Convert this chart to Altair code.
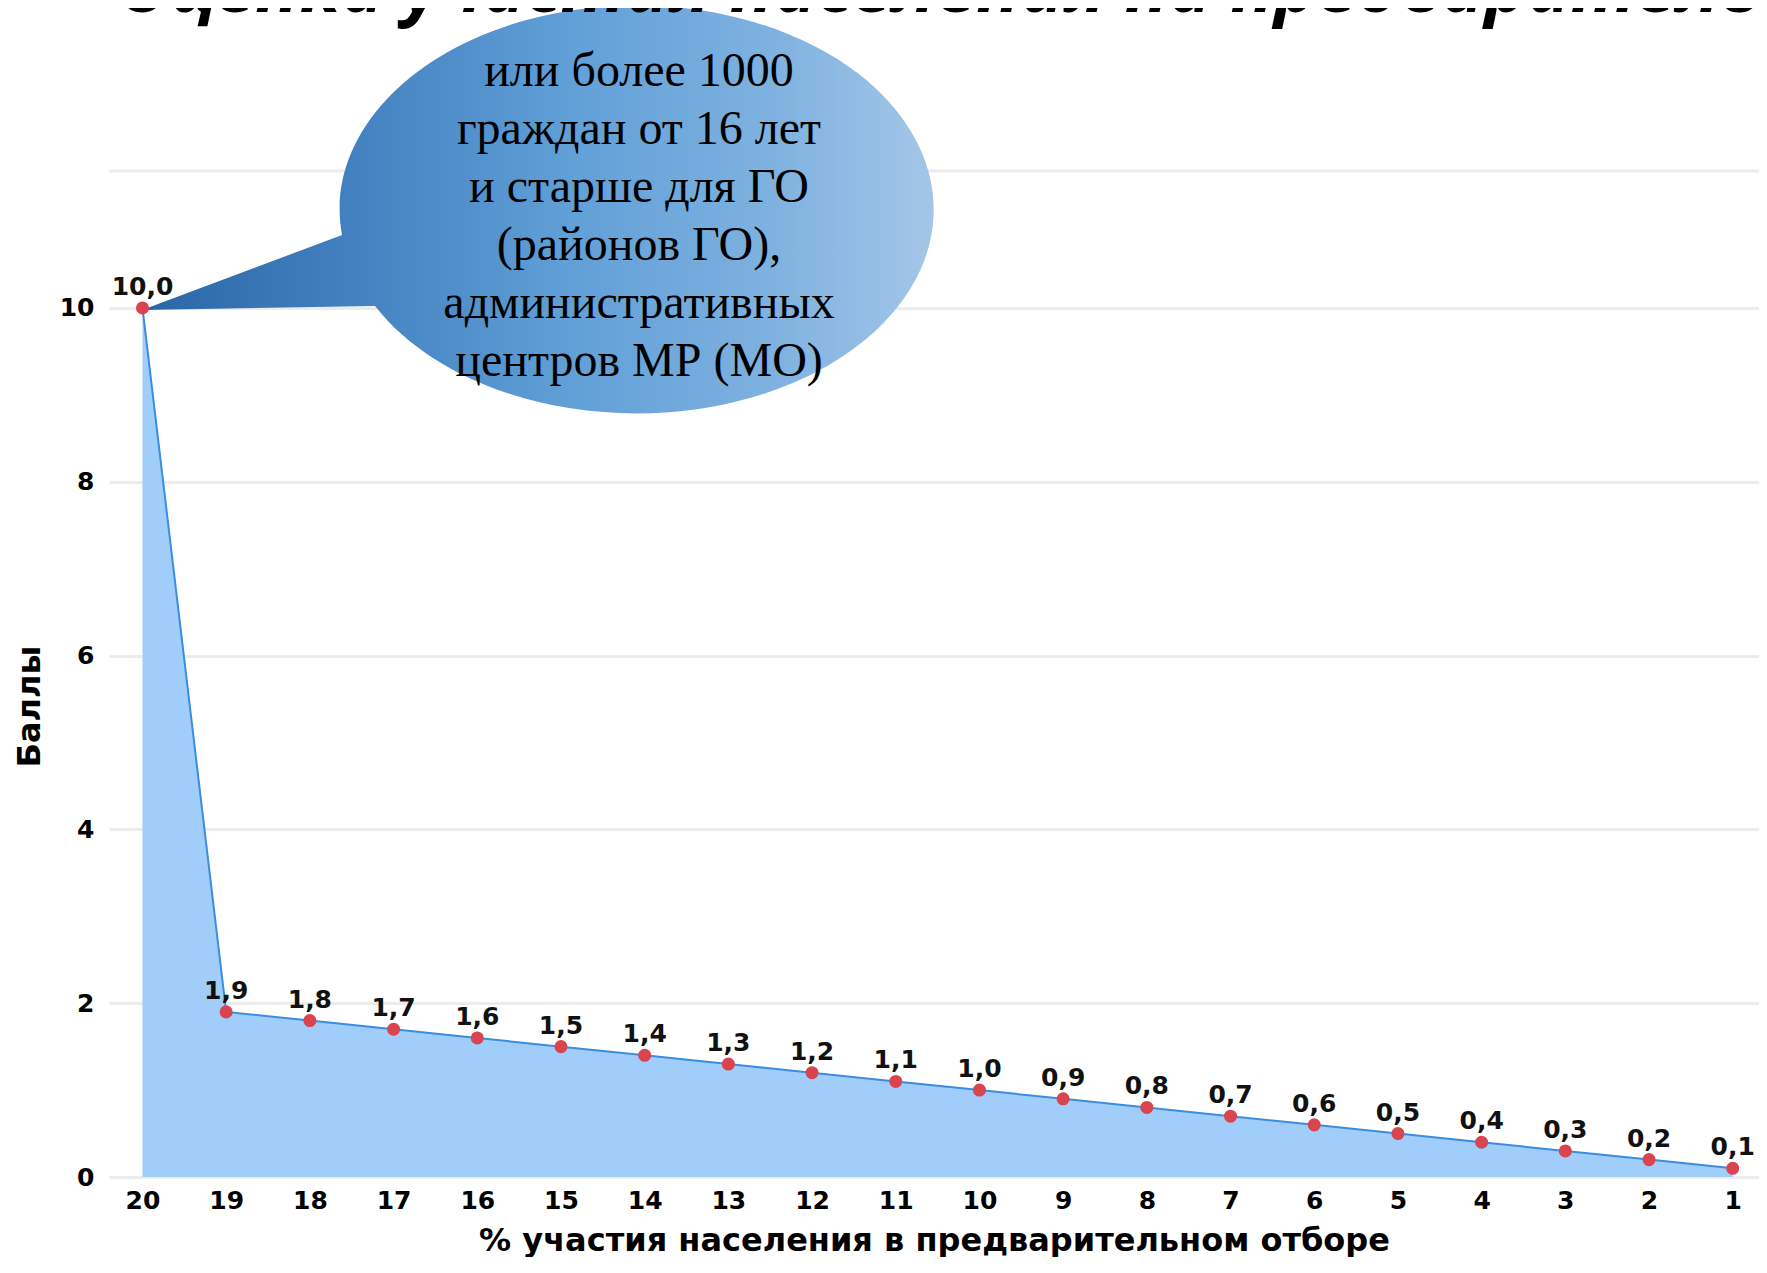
import altair as alt
import pandas as pd

# ---- data ----
participation = [20, 19, 18, 17, 16, 15, 14, 13, 12, 11, 10, 9, 8, 7, 6, 5, 4, 3, 2, 1]
scores = [10.0, 1.9, 1.8, 1.7, 1.6, 1.5, 1.4, 1.3, 1.2, 1.1, 1.0, 0.9, 0.8, 0.7, 0.6, 0.5, 0.4, 0.3, 0.2, 0.1]
x_ticks = [20, 19, 18, 17, 16, 15, 14, 13, 12, 11, 10, 9, 8, 7, 6, 5, 4, 3, 2, 1]
y_ticks = [0, 2, 4, 6, 8, 10]
bubble_lines = [
    "или более 1000",
    "граждан от 16 лет",
    "и старше для ГО",
    "(районов ГО),",
    "административных",
    "центров МР (МО)",
]
title_text = "Оценка участия населения на предварительном отборе"
x_title = "% участия населения в предварительном отборе"
y_title = "Баллы"

df = pd.DataFrame({"pct": participation, "score": scores})
one = pd.DataFrame({"k": [0]})

W, H = 1650, 1006
FONT = "DejaVu Sans"

x_scale = alt.Scale(domain=[20.4, 0.686], nice=False, zero=False)
y_scale = alt.Scale(domain=[0, 11.576], nice=False, zero=False)

x_axis = alt.Axis(
    values=x_ticks, format="d", title=x_title, grid=False, domain=False,
    ticks=False, tickSize=0, labelPadding=11, labelFlush=False, labelOverlap=False,
    labelFont=FONT, labelFontSize=25, labelFontWeight="bold", labelColor="#000000",
    titleFont=FONT, titleFontSize=32, titleFontWeight="bold", titleColor="#000000",
    titleY=73, titleBaseline="alphabetic",
)
y_axis = alt.Axis(
    values=y_ticks, format="d", title=y_title, grid=True, gridColor="#ececec",
    gridWidth=3, domain=False, ticks=False, tickSize=0, labelPadding=15,
    labelFont=FONT, labelFontSize=25, labelFontWeight="bold", labelColor="#000000",
    titleFont=FONT, titleFontSize=32, titleFontWeight="bold", titleColor="#000000",
    titleX=-80, titleY=535, titleAngle=270, titleAlign="center", titleBaseline="middle",
)

base = alt.Chart(df).encode(
    x=alt.X("pct:Q", scale=x_scale, axis=x_axis),
    y=alt.Y("score:Q", scale=y_scale, axis=y_axis),
)

area = base.mark_area(color="#a0cdfa", opacity=1)
line = base.mark_line(color="#3a8de0", strokeWidth=2)
points = base.mark_point(filled=True, color="#d8444f", size=170, opacity=1)
labels = base.mark_text(
    dy=-13, baseline="alphabetic", align="center", font=FONT, fontSize=25,
    fontWeight="bold", color="#111111",
).transform_calculate(
    lbl="replace(format(datum.score, '.1f'), '.', ',')"
).encode(text="lbl:N")

top_rule = alt.Chart(one).mark_rule(color="#ececec", strokeWidth=3).encode(
    x=alt.value(0), x2=alt.value(W), y=alt.value(0)
)

bubble_path = "M -0.592 0.04 L -0.992 0.19 L -0.526 0.182 A 0.594 0.408 0 1 0 -0.592 0.04 Z"
gradient = {
    "gradient": "linear",
    "x1": 0, "y1": 0, "x2": 1, "y2": 0,
    "stops": [
        {"offset": 0.0, "color": "#2a66a5"},
        {"offset": 0.25, "color": "#417fbf"},
        {"offset": 0.55, "color": "#62a0d8"},
        {"offset": 0.8, "color": "#7fb2e0"},
        {"offset": 1.0, "color": "#a4c6e7"},
    ],
}
bubble = alt.Chart(one).mark_point(
    shape=bubble_path, size=1000000, filled=True, fill=gradient, opacity=1,
    strokeWidth=0,
).encode(x=alt.value(529), y=alt.value(44))

bubble_text = alt.Chart(one).mark_text(
    text=bubble_lines, align="center", baseline="alphabetic", lineHeight=58,
    font="Liberation Serif", fontSize=48, color="#000000",
).encode(x=alt.value(530), y=alt.value(-85))

title = alt.Chart(one).mark_text(
    text=title_text, align="left", baseline="alphabetic", font="Open Sans",
    fontSize=72, fontStyle="italic", fontWeight="bold", color="#000000",
).encode(x=alt.value(9), y=alt.value(-159))

chart = alt.layer(
    top_rule, area, bubble, line, points, labels, bubble_text, title
).properties(
    width=W, height=H,
    padding={"left": 101, "top": 163, "right": 0, "bottom": 80},
    autosize=alt.AutoSizeParams(type="none"),
    background="white",
).configure_view(strokeWidth=0)

chart.save("out.html", embed_options={"renderer": "svg", "actions": False})
